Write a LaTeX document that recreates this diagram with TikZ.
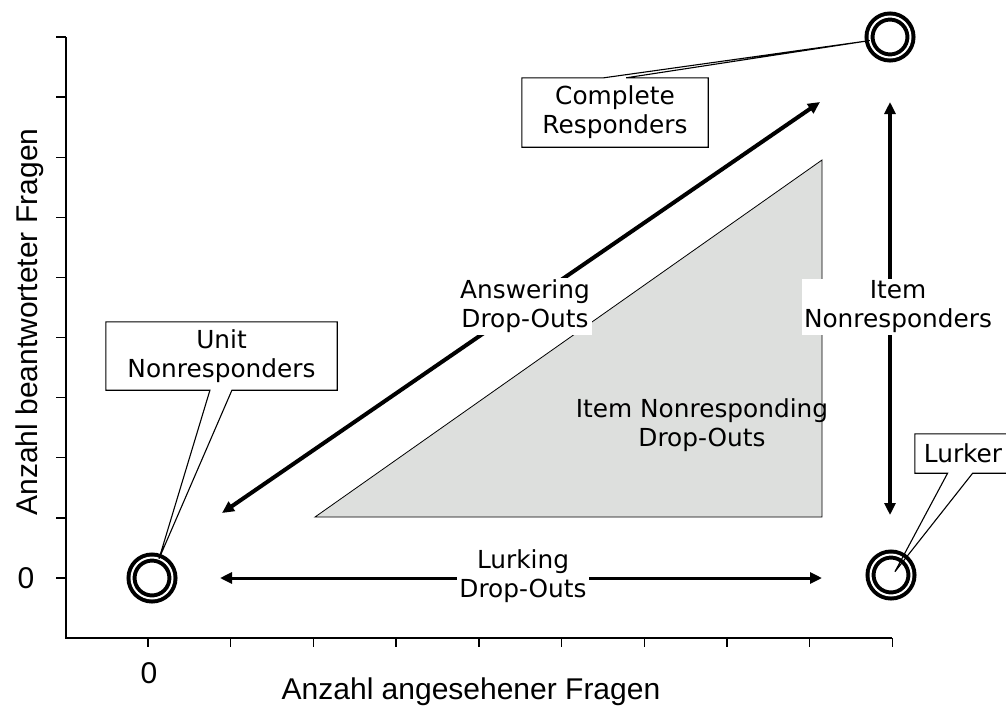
\documentclass[tikz,border=0pt]{standalone}
\usepackage{fontspec}
\setmainfont{DejaVu Sans}
\newfontfamily\axisfont{Liberation Sans}
\usetikzlibrary{arrows.meta,calc}
\definecolor{trifill}{RGB}{221,223,221}
\begin{document}
\begin{tikzpicture}[x=1pt,y=-1pt,
  axisline/.style={line width=1.4pt},
  axislab/.style={font=\axisfont\fontsize{30}{36}\selectfont, inner sep=0pt},
  lbl/.style={font=\fontsize{24.8}{29}\selectfont, align=center, inner sep=2pt},
  ring/.style={circle, minimum size=41pt, inner sep=0pt, outer sep=0pt, draw=black, line width=4pt, double=white, double distance=2pt},
  cbox/.style={draw=black, line width=1.1pt},
  ctext/.style={font=\fontsize{24.8}{29}\selectfont, align=center, inner sep=0pt},
  dblarrow/.style={{Triangle[length=12pt,width=11pt]}-{Triangle[length=12pt,width=11pt]}}
]
\useasboundingbox (0,0) rectangle (1006,707);
\clip (0,0) rectangle (1006,707);
\fill[white] (0,0) rectangle (1006,707);

% axes
\coordinate (ytop) at (66,37);
\coordinate (orig) at (66,638);
\coordinate (xend) at (892,638);
\draw[axisline] (ytop) -- (orig) -- (xend);
\foreach \i in {0,...,9} {
  \draw[axisline] (66,37+60.1*\i) -- ++(-10,0);
  \draw[axisline] (148+82.7*\i,638) -- ++(0,9);
}
\node[axislab] (y0) at (26,578) {0};
\node[axislab] (x0) at (149,673) {0};
\node[axislab, rotate=90] (ylab) at (29.5,322) {Anzahl beantworteter Fragen};
\node[axislab] (xlab) at (471,692) {Anzahl angesehener Fragen};

% grey triangle
\filldraw[fill=trifill, draw=black, line width=0.8pt] (315,517) -- (822,517) -- (822,160) -- cycle;

% arrows
\coordinate (d1) at (222,513);
\coordinate (d2) at (820,102);
\draw[dblarrow, line width=4pt] (d1) -- (d2);
\coordinate (v1) at (890,102);
\coordinate (v2) at (890,515);
\draw[dblarrow, line width=3.5pt] (v1) -- (v2);
\coordinate (h1) at (220,578);
\coordinate (h2) at (822,578);
\draw[dblarrow, line width=3pt] (h1) -- (h2);

% labels
\node[lbl, fill=white] (ans) at (525,306) {Answering\\Drop-Outs};
\node[lbl, fill=white] (inr) at (898,307) {Item\\Nonresponders};
\node[lbl] (inrd) at (702,425) {Item Nonresponding\\Drop-Outs};
\node[lbl, fill=white] (lurking) at (523,576) {Lurking\\Drop-Outs};

% rings
\node[ring] (c1) at (152,578) {};
\node[ring] (c2) at (890,37) {};
\node[ring] (c3) at (891,575) {};

% callouts
\node[ctext, minimum width=231pt, minimum height=68pt] (ub) at (221.5,356) {Unit\\Nonresponders};
\draw[cbox] (ub.north west) -- (ub.north east) -- (ub.south east)
  -- ($(ub.south west)!0.545!(ub.south east)$) -- (c1.70)
  -- ($(ub.south west)!0.45!(ub.south east)$) -- (ub.south west) -- cycle;

\node[ctext, minimum width=186pt, minimum height=69pt] (cb) at (615,112.5) {Complete\\Responders};
\draw[cbox] (cb.south west) -- (cb.north west)
  -- ($(cb.north west)!0.44!(cb.north east)$) -- (c2.190)
  -- ($(cb.north west)!0.56!(cb.north east)$) -- (cb.north east) -- (cb.south east) -- cycle;

\node[ctext, minimum width=96pt, minimum height=39pt] (lb) at (963,453.5) {Lurker};
\draw[cbox] (lb.north west) -- (lb.north east) -- (lb.south east)
  -- ($(lb.south west)!0.6!(lb.south east)$) -- ($(c3.center)!0.25!(c3.40)$)
  -- ($(lb.south west)!0.34!(lb.south east)$) -- (lb.south west) -- cycle;
\end{tikzpicture}
\end{document}
